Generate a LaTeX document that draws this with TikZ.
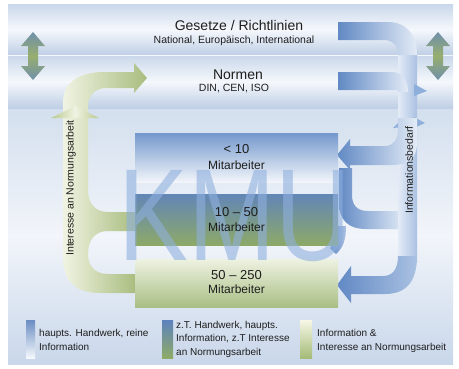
\documentclass[tikz,border=0pt]{standalone}
\usepackage{fontspec}
\setmainfont{Liberation Sans}
\definecolor{txtc}{HTML}{1E1E1E}
\definecolor{bandT}{HTML}{C9D7EA}
\definecolor{bandM}{HTML}{F5F8FC}
\definecolor{bandB}{HTML}{BFCFE5}
\definecolor{mainT}{HTML}{D3DFEE}
\definecolor{mainM}{HTML}{F2F5FA}
\definecolor{mainB}{HTML}{C9D7EA}
\definecolor{dblA}{HTML}{6F8FAB}
\definecolor{dblB}{HTML}{97AE6E}
\definecolor{grL}{HTML}{F0F3E2}
\definecolor{grD}{HTML}{A9BD7F}
\definecolor{grM}{HTML}{B9C98F}
\definecolor{blD}{HTML}{6189C4}
\definecolor{blL}{HTML}{E3EBF6}
\definecolor{blS}{HTML}{AAC1E2}
\definecolor{blM}{HTML}{8EAEDB}
\definecolor{kmuc}{HTML}{8FB0DE}
\definecolor{boxAT}{HTML}{7398CC}
\definecolor{boxAB}{HTML}{F2F5FA}
\definecolor{boxBT}{HTML}{6286B7}
\definecolor{boxBB}{HTML}{8DA968}
\definecolor{boxCT}{HTML}{EEF2E2}
\definecolor{boxCB}{HTML}{A9BF84}
\definecolor{swAT}{HTML}{6A8DC2}
\definecolor{swAB}{HTML}{F5F8FC}
\definecolor{swBT}{HTML}{5D83BD}
\definecolor{swBB}{HTML}{8EAB66}
\definecolor{swCT}{HTML}{F6F7E6}
\definecolor{swCB}{HTML}{A5BB78}
\begin{document}
\begin{tikzpicture}[x=1pt,y=-1pt,
  ttl/.style={font=\fontsize{14}{16}\selectfont, text=txtc, inner sep=0pt, anchor=base},
  sub/.style={font=\fontsize{10.5}{12}\selectfont, text=txtc, inner sep=0pt, anchor=base},
  num/.style={font=\fontsize{13}{15}\selectfont, text=txtc, inner sep=0pt, anchor=base},
  mit/.style={font=\fontsize{12}{14}\selectfont, text=txtc, inner sep=0pt, anchor=base},
  leg/.style={font=\fontsize{10}{13.5}\selectfont, text=txtc, inner sep=0pt, anchor=west, align=left},
  vert/.style={font=\fontsize{10.5}{12}\selectfont, text=txtc, inner sep=0pt, rotate=90},
  kmu/.style={font=\fontsize{131}{131}\selectfont, text=kmuc, text opacity=0.6, inner sep=0pt, anchor=base, xscale=0.8},
]
\useasboundingbox (0,0) rectangle (459,368);
\fill[white] (0,0) rectangle (459,368);
% panel
\shade[top color=mainT, bottom color=mainB, middle color=mainM] (8,108) rectangle (453,364);
\shade[top color=bandT, bottom color=bandB, middle color=bandM] (8,4) rectangle (453,55);
\shade[top color=bandT, bottom color=bandB, middle color=bandM] (8,55) rectangle (453,108);
\draw[white, line width=0.8pt, opacity=0.8] (8,55.5) -- (453,55.5);
% double arrows
\foreach \cx in {33,438}
  \shade[top color=dblA, bottom color=dblA, middle color=dblB]
    (\cx,32) -- ++(12,14) -- ++(-7,0) -- ++(0,20) -- ++(7,0) -- (\cx,80)
    -- ++(-12,-14) -- ++(7,0) -- ++(0,-20) -- ++(-7,0) -- cycle;
% green upper arrow
\shade[left color=grL, right color=grD]
  (63,120) -- (63,102) .. controls (63,82) and (80,72) .. (104,72) -- (134,72)
  -- (134,63) -- (147,78) -- (134,93) -- (134,88) -- (106,88)
  .. controls (96,88) and (88,95) .. (88,106) -- (88,120) -- cycle;
% green lower structure
\shade[left color=grL, right color=grD]
  (63,116) -- (63,256) .. controls (63,282) and (76,293) .. (100,293) -- (136,293)
  -- (136,274) -- (108,274) .. controls (95,274) and (88,266) .. (88,254)
  .. controls (88,240) and (95,231) .. (108,231) -- (136,231) -- (136,212)
  -- (108,212) .. controls (95,212) and (88,203) .. (88,190) -- (88,116) -- cycle;
\shade[left color=grM, right color=grM, middle color=grL] (51,118) -- (75,106) -- (99,118) -- cycle;
% blue structure
\shade[left color=blD, right color=blL]
  (339,168) -- (339,202) .. controls (339,221) and (349,229) .. (366,229) -- (405,229)
  -- (405,211) -- (368,211) .. controls (357,211) and (352,205) .. (352,195) -- (352,168) -- cycle;
\shade[left color=blD, right color=blS]
  (346,226) .. controls (346,240) and (343,248) .. (336,254) -- (330,248)
  .. controls (334,244) and (336,238) .. (336,226) -- cycle;
\shade[left color=blL, right color=blS] (398,50) rectangle (417,262);
\shade[left color=blD, right color=blL]
  (338,22) -- (388,22) .. controls (406,22) and (417,34) .. (417,55) -- (398,55)
  .. controls (398,46) and (393,40) .. (384,40) -- (338,40) -- cycle;
\shade[left color=blD, right color=blL]
  (338,72) -- (392,72) .. controls (402,72) and (408,80) .. (408,92) -- (398,92)
  -- (398,90) -- (338,90) -- cycle;
\fill[blM] (414,84) -- (427,91) -- (414,96) -- cycle;
\fill[blM] (414,117) -- (425,123) -- (414,128) -- cycle;
\fill[blM] (401,120) -- (393,128) -- (403,127) -- cycle;
\shade[left color=blD, right color=blL]
  (417,118) -- (417,143) .. controls (417,158) and (408,165) .. (392,165) -- (350,165)
  -- (350,170) -- (337,155) -- (350,139) -- (350,146) -- (385,146)
  .. controls (393,146) and (398,140) .. (398,130) -- (398,118) -- cycle;
\shade[left color=blD, right color=blS]
  (417,256) .. controls (417,283) and (405,294) .. (385,294) -- (351,294)
  -- (351,303) -- (337,285) -- (351,266) -- (351,276) -- (383,276)
  .. controls (392,276) and (398,270) .. (398,256) -- cycle;
% boxes
\shade[top color=boxAT, bottom color=boxAB] (135,133) rectangle (338,182);
\shade[top color=boxBT, bottom color=boxBB] (135,194) rectangle (338,245);
\shade[top color=boxCT, bottom color=boxCB] (135,259) rectangle (338,307);
% KMU watermark
\node[kmu] (kmuw) at (235,260) {KMU};
% texts
\node[ttl] (ges) at (239,30) {Gesetze / Richtlinien};
\node[sub] (nat) at (234,43) {National, Europäisch, International};
\node[ttl] (nor) at (238,79.5) {Normen};
\node[sub] (din) at (234,91.5) {DIN, CEN, ISO};
\node[num] (b1a) at (236.5,153.5) {< 10};
\node[mit] (b1b) at (236.5,169.5) {Mitarbeiter};
\node[num] (b2a) at (236.5,216.5) {10 – 50};
\node[mit] (b2b) at (236.5,231.5) {Mitarbeiter};
\node[num] (b3a) at (236.5,279.5) {50 – 250};
\node[mit] (b3b) at (236.5,293.5) {Mitarbeiter};
\node[vert] (intr) at (71,188) {Interesse an Normungsarbeit};
\node[vert] (info) at (409,170) {Informationsbedarf};
% legend
\shade[top color=swAT, bottom color=swAB] (26,320) rectangle (35,358);
\shade[top color=swBT, bottom color=swBB] (162,320) rectangle (173,358);
\shade[top color=swCT, bottom color=swCB] (300,320) rectangle (312,358);
\node[leg] (l1) at (39,340) {haupts. Handwerk, reine\\Information};
\node[leg] (l2) at (176,339) {z.T. Handwerk, haupts.\\Information, z.T Interesse\\an Normungsarbeit};
\node[leg] (l3) at (317,341) {Information \&\\Interesse an Normungsarbeit};
\end{tikzpicture}
\end{document}
